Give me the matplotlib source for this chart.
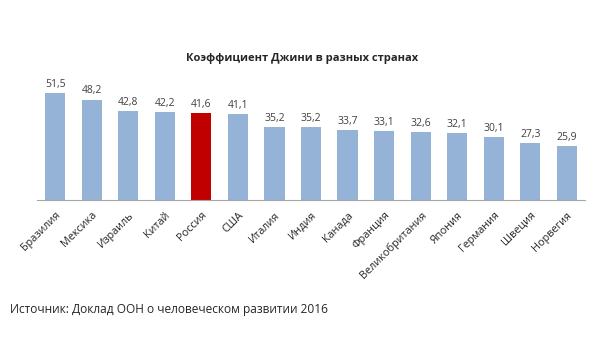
import matplotlib.pyplot as plt

plt.rcParams['font.family'] = ['Open Sans', 'DejaVu Sans']

countries = ["Бразилия", "Мексика", "Израиль", "Китай", "Россия", "США", "Италия",
             "Индия", "Канада", "Франция", "Великобритания", "Япония", "Германия",
             "Швеция", "Норвегия"]
gini = [51.5, 48.2, 42.8, 42.2, 41.6, 41.1, 35.2, 35.2, 33.7, 33.1, 32.6, 32.1, 30.1, 27.3, 25.9]
highlight = "Россия"

colors = ['#C00000' if c == highlight else '#95B3D7' for c in countries]

fig = plt.figure(figsize=(6, 3.38), dpi=100)
ax = fig.add_axes([37/600, 1 - 200/338, (585 - 37)/600, 0.37])

x = range(len(countries))
ax.bar(x, gini, width=0.55, color=colors)
for i, v in zip(x, gini):
    ax.text(i, v + 1.5, str(v).replace('.', ','), ha='center', va='bottom',
            fontsize=7.5, color='#404040')

ax.set_xlim(-0.5, len(countries) - 0.5)
ax.set_ylim(0, 60)
ax.set_yticks([])
ax.set_xticks(list(x))
ax.set_xticklabels(countries, rotation=45, ha='right', rotation_mode='anchor',
                   fontsize=7.8, color='#262626')
ax.tick_params(axis='x', length=0, pad=7)
for s in ['top', 'right', 'left']:
    ax.spines[s].set_visible(False)
ax.spines['bottom'].set_color('#A6A6A6')

fig.text(0.503, 1 - 58/338, "Коэффициент Джини в разных странах", ha='center',
         va='center', fontsize=8, fontweight='bold', color='#262626')
fig.text(10/600, 1 - 309/338, "Источник: Доклад ООН о человеческом развитии 2016",
         ha='left', va='center', fontsize=8.6, color='#262626')

fig.savefig('out.png', dpi=100, facecolor='white')
